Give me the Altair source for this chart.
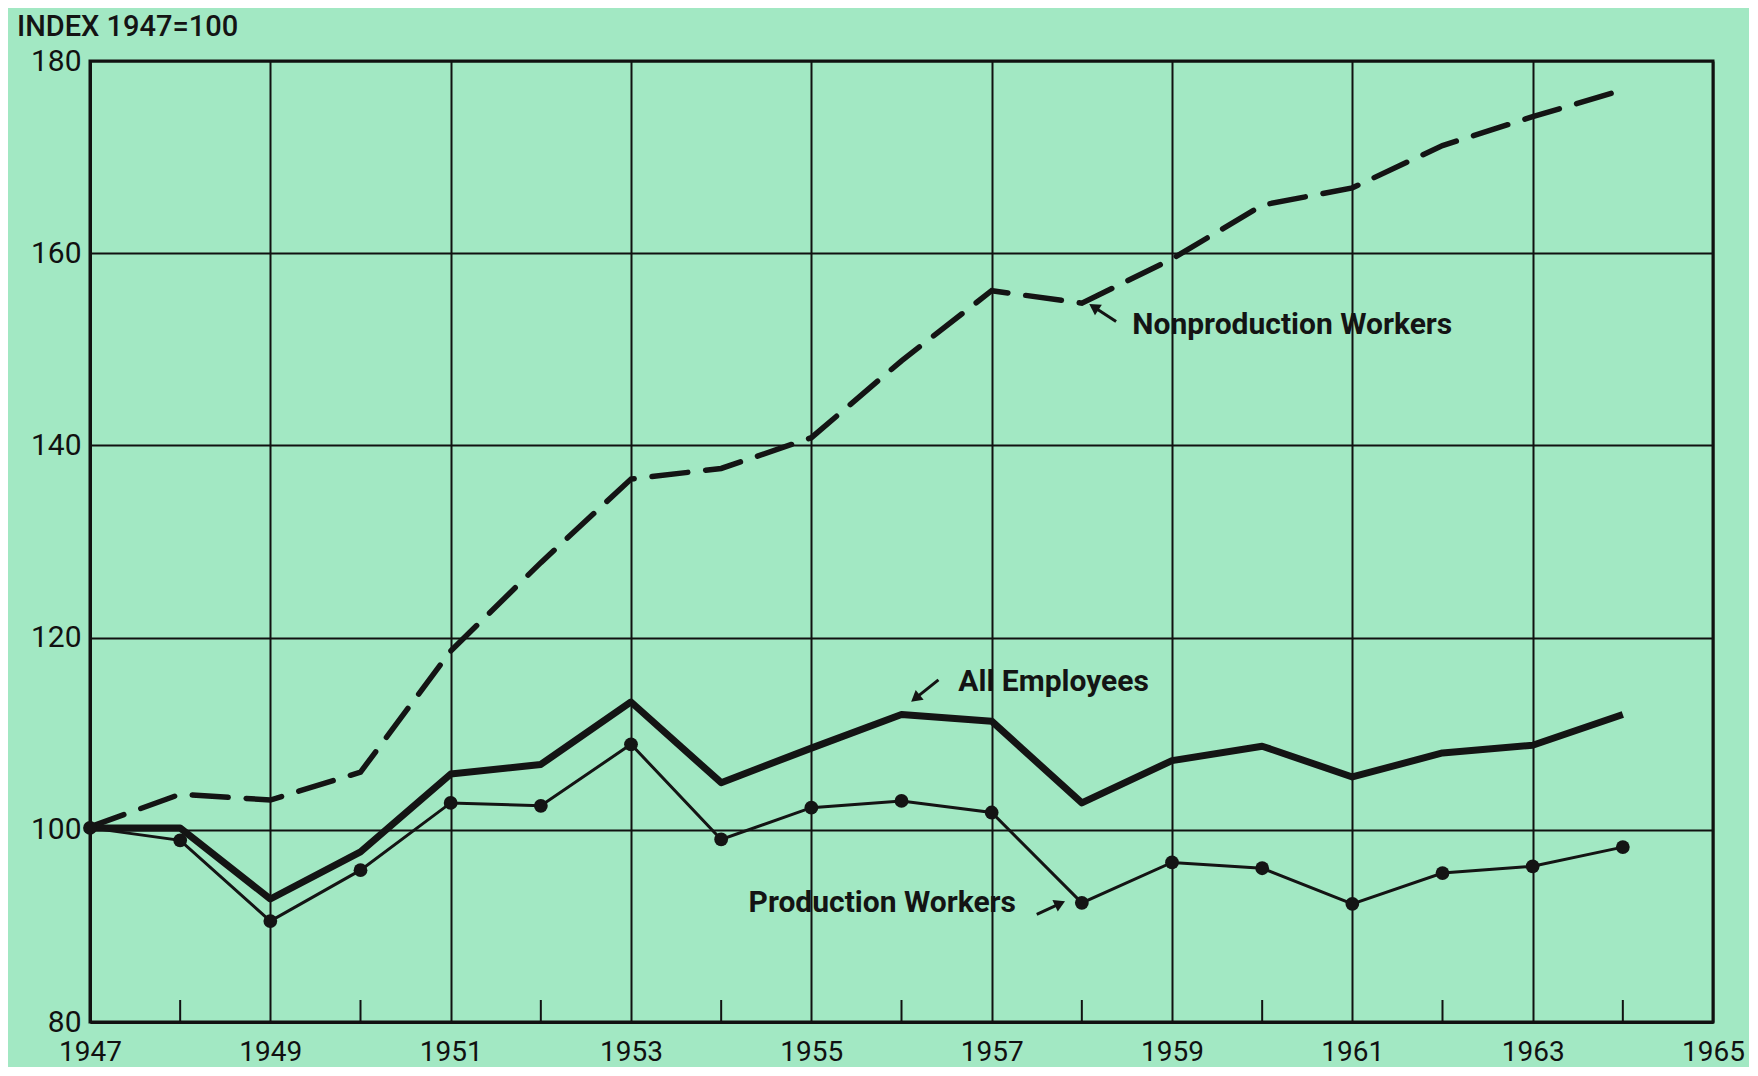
import altair as alt
import pandas as pd

# ---- data ----
years = list(range(1947, 1965))
nonproduction = [100.3, 103.7, 103.1, 106.0, 118.6, 127.8, 136.5, 137.6, 140.8,
                 148.8, 156.1, 154.8, 159.4, 165.0, 166.8, 171.2, 174.2, 177.0]
all_employees = [100.2, 100.2, 92.8, 97.7, 105.8, 106.8, 113.3, 104.9, 108.5,
                 112.0, 111.3, 102.8, 107.2, 108.7, 105.5, 108.0, 108.8, 112.0]
production = [100.2, 98.9, 90.5, 95.8, 102.8, 102.5, 108.9, 99.0, 102.3,
              103.0, 101.8, 92.4, 96.6, 96.0, 92.3, 95.5, 96.2, 98.2]

major_years = [1947, 1949, 1951, 1953, 1955, 1957, 1959, 1961, 1963, 1965]
minor_years = [1948, 1950, 1952, 1954, 1956, 1958, 1960, 1962, 1964]
y_ticks = [80, 100, 120, 140, 160, 180]

label_text = ["Nonproduction Workers", "All Employees", "Production Workers"]
label_year = [1958.56, 1956.63, 1957.27]
label_value = [152.5, 115.4, 92.4]
label_align = ["left", "left", "right"]

arrow_tail_year = [1958.38, 1956.41, 1957.50]
arrow_tail_value = [152.9, 115.6, 91.2]
arrow_tip_year = [1958.15, 1956.17, 1957.74]
arrow_tip_value = [154.3, 113.8, 92.25]
arrow_angle = [303, 231, 65]

axis_title = "INDEX 1947=100"

# ---- tables ----
df_non = pd.DataFrame({"year": years, "value": nonproduction})
df_all = pd.DataFrame({"year": years, "value": all_employees})
df_prod = pd.DataFrame({"year": years, "value": production})
df_minor = pd.DataFrame({"year": minor_years})
df_labels = pd.DataFrame({"year": label_year, "value": label_value,
                          "text": label_text, "align": label_align})
df_arrows = pd.DataFrame({"year": arrow_tail_year, "value": arrow_tail_value,
                          "year2": arrow_tip_year, "value2": arrow_tip_value})
df_heads = pd.DataFrame({"year": arrow_tip_year, "value": arrow_tip_value,
                         "angle": arrow_angle})

W, H = 1623, 961
FONT = "Roboto"

x_enc = alt.X("year:Q",
              scale=alt.Scale(domain=[1947, 1965], nice=False, zero=False),
              axis=alt.Axis(values=major_years, format="d", title=None,
                            labelFontSize=28, labelPadding=16, labelFont=FONT,
                            labelColor="#111111", ticks=False, grid=True,
                            gridColor="#111111", gridWidth=2,
                            domainColor="#111111", domainWidth=3,
                            labelFlush=False))
y_enc = alt.Y("value:Q",
              scale=alt.Scale(domain=[80, 180], nice=False, zero=False),
              axis=alt.Axis(values=y_ticks, title=None, labelFontSize=30,
                            labelPadding=9, labelFont=FONT,
                            labelColor="#111111", ticks=False, grid=True,
                            gridColor="#111111", gridWidth=2,
                            domainColor="#111111", domainWidth=3,
                            labelFlush=False))

non_line = alt.Chart(df_non).mark_line(
    color="#141414", strokeWidth=5.5, strokeDash=[36, 18], strokeCap="round"
).encode(x=x_enc, y=y_enc)

all_line = alt.Chart(df_all).mark_line(
    color="#141414", strokeWidth=7, strokeJoin="round"
).encode(x=x_enc, y=y_enc)

prod_line = alt.Chart(df_prod).mark_line(
    color="#141414", strokeWidth=3
).encode(x=x_enc, y=y_enc)

prod_pts = alt.Chart(df_prod).mark_circle(
    color="#141414", size=190, opacity=1
).encode(x=x_enc, y=y_enc)

minor_ticks = alt.Chart(df_minor).mark_rule(
    color="#111111", strokeWidth=2
).encode(x=x_enc, y=alt.value(H), y2=alt.value(H - 22))

labels_left = alt.Chart(df_labels[df_labels["align"] == "left"]).mark_text(
    font=FONT, fontSize=30, fontWeight="bold", color="#141414",
    baseline="middle", align="left"
).encode(x=x_enc, y=y_enc, text="text:N")

labels_right = alt.Chart(df_labels[df_labels["align"] == "right"]).mark_text(
    font=FONT, fontSize=30, fontWeight="bold", color="#141414",
    baseline="middle", align="right"
).encode(x=x_enc, y=y_enc, text="text:N")

shafts = alt.Chart(df_arrows).mark_rule(
    color="#141414", strokeWidth=3
).encode(x=x_enc, y=y_enc, x2="year2:Q", y2="value2:Q")

heads = alt.Chart(df_heads).mark_point(
    shape="triangle", filled=True, color="#141414", size=160, opacity=1,
    strokeWidth=0
).encode(x=x_enc, y=y_enc, angle=alt.Angle("angle:Q", scale=None))

title_txt = alt.Chart(pd.DataFrame({"t": [axis_title]})).mark_text(
    font=FONT, fontSize=29, fontWeight=500, color="#141414",
    align="left", baseline="middle"
).encode(x=alt.value(-73), y=alt.value(-34), text="t:N")

chart = alt.layer(
    minor_ticks, non_line, all_line, prod_line, prod_pts,
    shafts, heads, labels_left, labels_right, title_txt
).properties(
    width=W, height=H,
    background="#A2E8C3",
    autosize=alt.AutoSizeParams(type="none"),
    padding={"left": 82, "top": 53, "right": 36, "bottom": 45},
).configure_view(
    stroke="#111111", strokeWidth=3
)

chart.save("out.html", embed_options={"renderer": "svg", "actions": False})
